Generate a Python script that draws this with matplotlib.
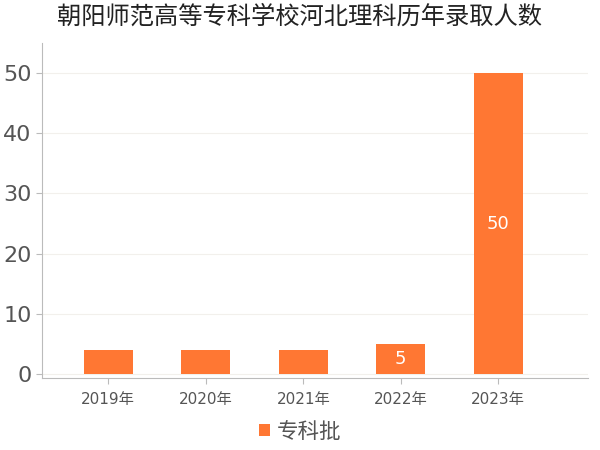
import matplotlib
matplotlib.use("Agg")
import matplotlib.pyplot as plt

plt.rcParams['font.family'] = ['DejaVu Sans', 'Noto Sans CJK SC']

# 数据
years = ['2019年', '2020年', '2021年', '2022年', '2023年']
counts = [4, 4, 4, 5, 50]
labels = ['', '', '', '5', '50']
series_name = '专科批'
title = '朝阳师范高等专科学校河北理科历年录取人数'

orange = '#FF7733'
grey = '#555555'

fig = plt.figure(figsize=(6, 4.5), dpi=100)
ax = fig.add_axes([0.07, 0.16, 0.91, 0.745])

x = list(range(len(years)))
bars = ax.bar(x, counts, width=0.5, color=orange, label=series_name, zorder=3)
for b, lab in zip(bars, labels):
    if lab:
        ax.text(b.get_x() + b.get_width() / 2, b.get_height() / 2, lab,
                ha='center', va='center', color='white', fontsize=13, zorder=4)

ax.set_xlim(-0.68, 4.92)
ax.set_ylim(-0.6, 55)
ax.set_xticks(x)
ax.set_xticklabels(years, fontsize=11, color=grey)
ax.set_yticks([0, 10, 20, 30, 40, 50])
ax.tick_params(axis='y', labelsize=16, labelcolor=grey, length=4, color='#bbbbbb')
ax.tick_params(axis='x', length=4, color='#bbbbbb', pad=6)
ax.grid(axis='y', color='#f2f0ec', linewidth=0.8, zorder=0)

for s in ['top', 'right']:
    ax.spines[s].set_visible(False)
ax.spines['left'].set_color('#bbbbbb')
ax.spines['bottom'].set_color('#bbbbbb')

fig.suptitle(title, fontsize=17.5, color='#222222', y=0.99)
fig.legend(loc='lower center', bbox_to_anchor=(0.5, -0.025), frameon=False,
           fontsize=15.5, labelcolor=grey, handlelength=0.5, handleheight=0.5,
           handletextpad=0.3)

fig.savefig('out.png', dpi=100)
